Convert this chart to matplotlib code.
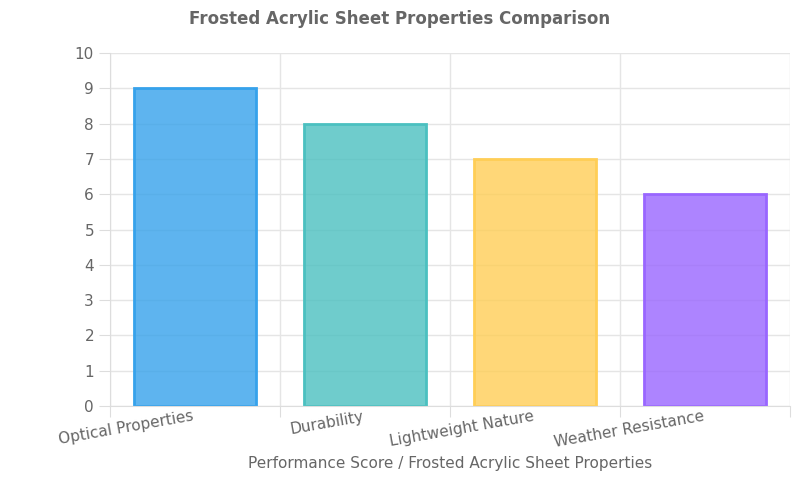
import matplotlib
matplotlib.use("Agg")
import matplotlib.pyplot as plt

categories = ["Optical Properties", "Durability", "Lightweight Nature", "Weather Resistance"]
values = [9, 8, 7, 6]
fills = [(54/255,162/255,235/255,0.8),(75/255,192/255,192/255,0.8),(255/255,206/255,86/255,0.8),(153/255,102/255,255/255,0.8)]
edges = [(54/255,162/255,235/255,1),(75/255,192/255,192/255,1),(255/255,206/255,86/255,1),(153/255,102/255,255/255,1)]

fig = plt.figure(figsize=(8,5), dpi=100)
ax = fig.add_axes([0.1375, 0.188, 0.85, 0.706])
x = range(len(categories))
ax.bar(x, values, width=0.72, color=fills, edgecolor=edges, linewidth=2)
ax.set_xlim(-0.5, 3.5)
ax.set_ylim(0, 10)
ax.set_yticks(range(11))
ax.set_xticks([i-0.5 for i in range(5)], minor=False)
ax.set_xticklabels([])
ax.set_xticks(list(x), minor=True)
ax.set_xticklabels(categories, minor=True, rotation=10, ha='right', fontsize=11, color='#666666')
ax.tick_params(axis='x', which='minor', length=0, pad=2)
ax.tick_params(axis='x', which='major', length=8, color='#dddddd')
ax.tick_params(axis='y', length=8, color='#dddddd', labelsize=11, labelcolor='#666666')
ax.grid(True, which='major', color='#e5e5e5', linewidth=1)
ax.set_axisbelow(True)
for s in ax.spines.values():
    s.set_color('#dddddd')
ax.spines['top'].set_visible(False)
ax.spines['right'].set_visible(False)
ax.set_xlabel("Performance Score / Frosted Acrylic Sheet Properties", fontsize=11, color='#666666', labelpad=4)
fig.text(0.5, 0.962, "Frosted Acrylic Sheet Properties Comparison", ha='center', va='center',
         fontsize=12, fontweight='bold', color='#666666')
fig.savefig("out.png", dpi=100)
